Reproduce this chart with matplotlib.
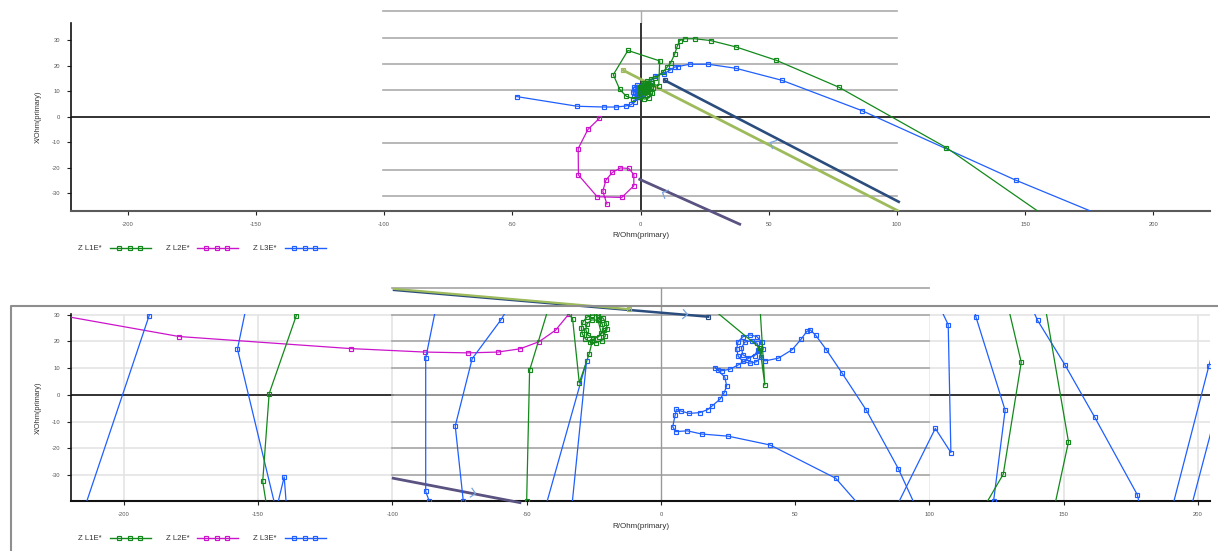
import numpy as np
import matplotlib
matplotlib.use("Agg")
import matplotlib.pyplot as plt
from matplotlib.lines import Line2D
from matplotlib.path import Path
from matplotlib.markers import MarkerStyle
from matplotlib.transforms import Affine2D

plt.rcParams['font.family'] = ['Liberation Sans', 'DejaVu Sans']

# ---------------- data: upper impedance plot ----------------
x_ticks = [-200, -150, -100, -50, 0, 50, 100, 150, 200]
y_ticks = [-30, -20, -10, 0, 10, 20, 30]
series_names = ["Z L1E*", "Z L2E*", "Z L3E*"]

top_l1_r = [166.3, 119.2, 77.3, 52.8, 37.2, 27.3, 21.1, 17.2, 15.3, 14.3, 13.3, 11.7, 10.4, 8.8,
            5.8, 3.9, 2.5, 7.1, 7.5, -4.9, -10.6, -8.1, -5.5, -2.8, -0.6,
            0.0, 1.5, 3.3, 4.6, 5.0, 4.3, 2.7, 0.9, -0.3, -0.2, 1.0, 2.6, 3.8, 3.9, 2.9, 1.4,
            0.6, 1.1, 2.3, 3.0, 2.4, 1.6, 2.0]
top_l1_x = [-45.0, -12.1, 11.6, 22.2, 27.4, 29.9, 30.6, 30.6, 29.9, 27.6, 24.5, 21.0, 19.5, 17.6,
            15.2, 14.7, 13.2, 12.2, 21.9, 26.0, 16.5, 10.7, 8.0, 7.1, 7.6,
            8.0, 6.9, 7.4, 9.2, 11.4, 13.2, 14.0, 13.4, 11.7, 9.7, 8.5, 8.4, 9.8, 11.8, 12.9, 12.6,
            11.2, 9.8, 9.6, 10.8, 11.8, 11.2, 10.5]

top_l2_r = [-16.1, -20.5, -24.3, -24.2, -16.9, -7.3, -2.6, -2.6, -4.6, -7.8, -11.0, -13.5, -14.7, -13.1]
top_l2_x = [-0.7, -5.0, -12.5, -22.9, -31.4, -31.7, -27.1, -22.7, -20.3, -20.1, -21.9, -24.9, -29.3, -34.3]

top_l3_r = [194.7, 146.3, 86.3, 55.1, 37.2, 26.4, 19.2, 14.7, 13.3, 11.4, 9.1, 5.6, 4.0, 2.5,
            -0.2, 0.8, 1.0, 0.2, -1.3, -2.6, -3.0, -2.4, -1.1, 0.1, 0.2, -0.8, -2.0, -2.2, -1.3,
            -0.5, -1.0, -1.5,
            -2.2, -3.6, -5.8, -9.4, -14.3, -24.7, -48.3]
top_l3_x = [-45.0, -24.9, 2.4, 14.3, 19.0, 20.6, 20.6, 19.7, 19.5, 18.2, 16.9, 16.0, 14.0, 12.5,
            7.6, 8.8, 10.5, 11.9, 12.4, 11.5, 9.8, 8.2, 7.8, 9.0, 10.6, 11.4, 10.9, 9.4, 8.7,
            9.6, 10.4, 9.8,
            5.8, 4.8, 4.2, 3.8, 3.8, 4.1, 7.9]

# characteristic / direction lines of the upper plot (R, X pairs)
top_olive_r, top_olive_x = [-6.7, 100.3], [18.2, -36.9]
top_navy_r, top_navy_x = [9.4, 100.7], [14.3, -33.4]
top_purple_r, top_purple_x = [-0.3, 38.7], [-24.6, -42.2]

# ---------------- data: lower impedance plot ----------------
bot_l1_segments = [
    ([-133.8, -135.8, -145.9, -148.3, -146.6], [36.0, 29.6, 0.5, -32.3, -43.0]),
    ([-40.8, -48.9, -50.0, -50.1], [36.0, 9.2, -39.6, -43.0]),
    ([-37.5, -32.9, -30.4, -26.7, -25.5,
      -20.0, -20.4, -21.6, -23.4, -25.6, -27.6, -29.0, -29.6, -29.3, -28.1, -26.3, -24.1, -22.1, -20.7,
      -21.3, -21.9, -23.6, -25.8, -27.5, -28.0, -27.2, -25.3, -23.2, -22.2, -25.4],
     [34.0, 28.5, 4.5, 15.4, 20.3,
      24.6, 26.9, 28.7, 29.7, 29.8, 29.0, 27.3, 25.1, 22.8, 20.9, 19.7, 19.5, 20.3, 22.0,
      24.2, 26.6, 27.9, 28.0, 26.6, 24.4, 22.3, 21.3, 21.7, 23.0, 36.0]),
    ([-22.3, -22.9], [36.0, 28.0]),
    ([14.6, 36.9, 38.7, 36.7], [36.0, 17.5, 3.7, 36.0]),
    ([128.6, 134.2, 127.5, 119.7], [36.0, 12.2, -29.6, -43.0]),
    ([142.6, 151.8, 146.3], [36.0, -17.5, -43.0]),
]

bot_l2_r = [-250.0, -179.4, -115.5, -87.9, -71.8, -60.8, -52.5, -45.3, -39.2, -34.3, -31.0]
bot_l2_x = [34.4, 21.8, 17.3, 16.0, 15.7, 16.0, 17.2, 19.9, 24.2, 30.2, 36.0]

bot_l3_segments = [
    ([-215.6, -190.7, -188.5], [-45.0, 29.3, 36.0]),
    ([-154.2, -157.7, -143.3, -140.3, -139.2], [34.0, 17.1, -43.0, -30.6, -45.0]),
    ([-83.5, -87.6, -87.6, -86.3, -85.8], [34.0, 13.7, -36.0, -39.6, -42.0]),
    ([-56.0, -59.6, -70.3, -76.6, -73.6, -73.3], [34.0, 28.0, 13.5, -11.6, -39.6, -42.0]),
    ([-43.3, -27.7, -33.3], [-43.0, 12.5, -43.0]),
    ([75.5, 65.1, 40.7, 25.1, 15.2, 9.8, 5.5, 4.4, 5.3, 5.8, 7.4, 10.5, 14.5, 17.4, 19.1, 22.0,
      23.6, 24.5, 23.8, 21.1, 20.1, 22.6, 25.7, 28.8,
      38.1, 37.5, 35.7, 33.1, 30.5, 28.7, 28.2, 28.8, 30.6, 33.1, 35.6, 37.4,
      36.4, 35.9, 33.8, 31.2, 30.0, 30.5, 32.5, 34.9, 36.0,
      38.7, 43.7, 48.9, 52.3, 54.3, 55.6, 57.7, 61.6, 67.5, 76.5, 88.4, 95.5],
     [-43.0, -31.1, -18.7, -15.4, -14.6, -13.4, -13.7, -11.9, -7.5, -5.4, -6.0, -6.9, -6.6, -5.5, -4.1, -1.6,
      0.9, 3.4, 6.6, 9.4, 10.2, 9.0, 9.6, 11.2,
      17.1, 19.8, 21.8, 22.4, 21.7, 19.8, 17.1, 14.4, 12.5, 11.8, 12.4, 14.3,
      16.4, 19.2, 20.3, 19.7, 17.6, 15.0, 13.9, 14.6, 16.9,
      12.7, 13.7, 16.9, 20.9, 23.7, 24.3, 22.2, 16.9, 8.1, -5.7, -27.5, -43.0]),
    ([87.1, 102.2, 108.0, 107.0, 103.3], [-43.0, -12.5, -21.5, 26.2, 34.0]),
    ([116.3, 117.3, 128.2, 123.9, 123.6], [34.0, 29.2, -5.7, -39.6, -43.0]),
    ([137.5, 140.3, 150.5, 161.6, 177.4, 178.8], [34.0, 27.8, 11.2, -8.4, -37.2, -43.0]),
    ([190.2, 204.1, 211.0], [-43.0, 10.9, 36.0]),
    ([197.2, 206.4], [-43.0, -8.0]),
]

bot_olive_r, bot_olive_x = [-99.4, -11.8], [39.6, 32.0]
bot_navy_r, bot_navy_x = [-99.4, 17.6], [39.2, 29.2]
bot_purple_r, bot_purple_x = [-99.7, -52.5], [-31.1, -40.2]

# ---------------- styling ----------------
C_L1, C_L2, C_L3 = '#12891a', '#cc14cc', '#1f5fff'
C_OLIVE, C_NAVY, C_PURPLE = '#9dbb5a', '#2b4d7e', '#5a5280'
C_CHEV = '#79a4de'
C_GHOST = '#ababab'
C_GRID = '#e4e4e4'
series_colors = [C_L1, C_L2, C_L3]

W, H = 1218, 551
fig = plt.figure(figsize=(W / 100, H / 100), dpi=100)
fig.patch.set_facecolor('white')


def px_rect(left, top, right, bottom):
    return [left / W, 1 - bottom / H, (right - left) / W, (bottom - top) / H]


def fx(px):
    return px / W


def fy(py):
    return 1 - py / H


MK = dict(marker='s', markersize=3.4, markerfacecolor='none', markeredgewidth=0.85)

chev_path = Path([(-1, 1), (0, 0), (-1, -1)], [Path.MOVETO, Path.LINETO, Path.LINETO])


def chevron(ax, x, y, angle):
    ms = MarkerStyle(chev_path, fillstyle='none', transform=Affine2D().rotate_deg(angle))
    ax.plot([x], [y], marker=ms, markersize=7, color=C_CHEV, markeredgewidth=0.9,
            linestyle='none', clip_on=False, zorder=6)


def style_axes(ax, xlim, ylim, bottom_color):
    ax.set_xlim(*xlim)
    ax.set_ylim(*ylim)
    ax.set_xticks(x_ticks)
    ax.set_yticks(y_ticks)
    ax.set_xticklabels([str(v) for v in x_ticks])
    ax.set_yticklabels([str(v) for v in y_ticks])
    for s in ('top', 'right'):
        ax.spines[s].set_visible(False)
    ax.spines['left'].set_color('#111111')
    ax.spines['left'].set_linewidth(1.2)
    ax.spines['bottom'].set_color(bottom_color)
    ax.spines['bottom'].set_linewidth(1.5)
    ax.tick_params(axis='both', direction='out', length=3, width=0.8, colors='#222222',
                   labelsize=4.2, labelcolor='#555555', pad=5)
    ax.set_xlabel("R/Ohm(primary)", fontsize=5.8, color='#333333', labelpad=4)
    ax.set_ylabel("X/Ohm(primary)", fontsize=5.3, color='#333333', labelpad=7)
    ax.set_facecolor('none')


def legend_row(py):
    text_x = [78, 166, 253]
    line_x = [(110, 151), (197, 238), (285, 326)]
    for name, tx, (l0, l1), col in zip(series_names, text_x, line_x, series_colors):
        fig.text(fx(tx), fy(py), name, fontsize=5.6, color='#333333', va='center', ha='left')
        fig.add_artist(Line2D([fx(l0), fx(l1)], [fy(py), fy(py)], color=col, lw=1.0,
                              transform=fig.transFigure))
        mx = np.linspace(l0 + 9, l1 - 11, 3)
        fig.add_artist(Line2D([fx(v) for v in mx], [fy(py)] * 3, color=col, lw=0,
                              transform=fig.transFigure, **MK))


# ================= upper plot =================
ax1 = fig.add_axes(px_rect(71, 22.7, 1210, 210.7))
style_axes(ax1, (-222.1, 222.1), (-36.9, 36.9), '#5a5a5a')

ghost_top_levels = [41.6, 31.0, 20.8, 10.4, -10.4, -20.9, -31.2]
for lv in ghost_top_levels:
    ax1.plot([-100.5, 100.2], [lv, lv], color=C_GHOST, lw=1.2, clip_on=False, zorder=1)
ax1.plot([0, 0], [36.9, 41.6], color=C_GHOST, lw=1.0, clip_on=False, zorder=1)
ax1.axhline(0, color='#222222', lw=1.3, zorder=2)
ax1.plot([0, 0], [-36.9, 36.9], color='#333333', lw=1.4, zorder=2)

ax1.plot(top_navy_r, top_navy_x, color=C_NAVY, lw=1.9, zorder=3)
ax1.plot(top_navy_r[:1], top_navy_x[:1], color=C_NAVY, zorder=3, **MK)
ax1.plot(top_olive_r, top_olive_x, color=C_OLIVE, lw=2.0, zorder=3)
ax1.plot(top_olive_r[:1], top_olive_x[:1], color=C_OLIVE, zorder=3, **MK)
ax1.plot(top_purple_r, top_purple_x, color=C_PURPLE, lw=2.0, clip_on=False, zorder=3)
chevron(ax1, 50.5, -9.8, 153)
chevron(ax1, 8.3, -29.5, 156)

ax1.plot(top_l2_r, top_l2_x, color=C_L2, lw=0.9, zorder=4, **MK)
ax1.plot(top_l3_r, top_l3_x, color=C_L3, lw=0.9, zorder=4, **MK)
ax1.plot(top_l1_r, top_l1_x, color=C_L1, lw=0.9, zorder=5, **MK)
legend_row(248)

# ================= lower plot =================
ax2 = fig.add_axes(px_rect(71, 314.3, 1210, 501))
style_axes(ax2, (-219.7, 204.5), (-39.6, 30.1), '#111111')

for v in x_ticks:
    ax2.axvline(v, color=C_GRID, lw=1.2, zorder=0)
for v in y_ticks:
    if v != 0:
        ax2.axhline(v, color=C_GRID, lw=1.2, zorder=0)
ax2.axhline(0, color='#222222', lw=1.3, zorder=0.5)

# overlaid panel region between -100 and 100
ax2.fill_between([-99.4, 99.4], [-39.6, -39.6], [40, 40], color='white', zorder=0.8)
for lv in [40, 30, 20, 10, 0, -10, -20, -30]:
    ax2.plot([-100, 100], [lv, lv], color=C_GHOST if lv != 0 else '#8c8c8c', lw=1.3,
             clip_on=False, zorder=1)
ax2.plot([0, 0], [-39.6, 40], color='#999999', lw=1.0, clip_on=False, zorder=1)

ax2.plot(bot_navy_r, bot_navy_x, color=C_NAVY, lw=1.8, clip_on=False, zorder=3)
ax2.plot(bot_navy_r[-1:], bot_navy_x[-1:], color=C_NAVY, clip_on=False, zorder=3, **MK)
ax2.plot(bot_olive_r, bot_olive_x, color=C_OLIVE, lw=1.6, clip_on=False, zorder=3)
ax2.plot(bot_olive_r[-1:], bot_olive_x[-1:], color=C_OLIVE, clip_on=False, zorder=3, **MK)
ax2.plot(bot_purple_r, bot_purple_x, color=C_PURPLE, lw=2.0, clip_on=False, zorder=3)
chevron(ax2, 9.6, 30.1, -5)
chevron(ax2, -69.3, -36.5, -11)

ax2.plot(bot_l2_r, bot_l2_x, color=C_L2, lw=0.9, zorder=4, **MK)
for r, x in bot_l3_segments:
    ax2.plot(r, x, color=C_L3, lw=0.9, zorder=4, **MK)
for r, x in bot_l1_segments:
    ax2.plot(r, x, color=C_L1, lw=0.9, zorder=5, **MK)
legend_row(538)

# frame around the lower panel
fig.add_artist(Line2D([fx(11), fx(11), fx(1218)], [fy(551), fy(305.7), fy(305.7)],
                      color='#8e8e8e', lw=1.5, transform=fig.transFigure))

fig.savefig("out.png", dpi=100, facecolor='white')
